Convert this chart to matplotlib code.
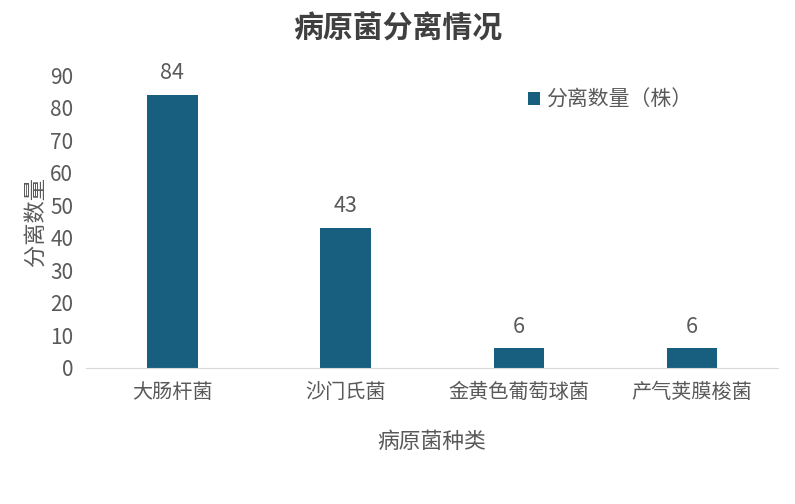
import matplotlib.pyplot as plt
import numpy as np

plt.rcParams['font.family'] = ['Noto Sans CJK SC', 'DejaVu Sans']

categories = ['大肠杆菌', '沙门氏菌', '金黄色葡萄球菌', '产气荚膜梭菌']
counts = [84, 43, 6, 6]
series_name = '分离数量（株）'

bar_color = '#175e7f'
text_color = '#595959'

fig = plt.figure(figsize=(7.95, 5.04), dpi=100)
ax = fig.add_axes([0.108, 0.27, 0.871, 0.581])

x = np.arange(len(categories))
bars = ax.bar(x, counts, width=0.29, color=bar_color, label=series_name)
for b, v in zip(bars, counts):
    ax.text(b.get_x() + b.get_width() / 2, v + 3.3, str(v), ha='center', va='bottom',
            fontsize=15.5, color=text_color)

ax.set_xlim(-0.5, len(categories) - 0.5)
ax.set_ylim(0, 90)
ax.set_yticks(range(0, 91, 10))
ax.set_xticks(x)
ax.set_xticklabels(categories, fontsize=14.5)
ax.tick_params(axis='both', length=0, colors=text_color)
ax.tick_params(axis='y', labelsize=15, pad=9)
ax.tick_params(axis='x', pad=10)
for s in ['top', 'right', 'left']:
    ax.spines[s].set_visible(False)
ax.spines['bottom'].set_color('#d9d9d9')

ax.set_xlabel('病原菌种类', fontsize=15.7, color=text_color, labelpad=20)
ax.set_ylabel('分离数量', fontsize=16, color=text_color, labelpad=2)
fig.suptitle('病原菌分离情况', fontsize=21.5, fontweight='bold', color='#404040', y=0.973)

leg = ax.legend(loc='upper left', bbox_to_anchor=(0.612, 1.017), frameon=False,
                fontsize=15, handlelength=0.55, handleheight=0.55, handletextpad=0.3)
for t in leg.get_texts():
    t.set_color(text_color)

fig.savefig('out.png', dpi=100)
